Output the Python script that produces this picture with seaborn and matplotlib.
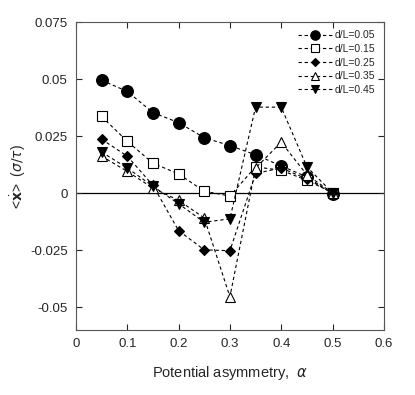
import matplotlib
matplotlib.use('agg')
import matplotlib.pyplot as plt
import seaborn as sns
import pandas as pd

alpha = [0.05, 0.1, 0.15, 0.2, 0.25, 0.3, 0.35, 0.4, 0.45, 0.5]
v005 = [0.0495, 0.0446, 0.0353, 0.0309, 0.0243, 0.0208, 0.0168, 0.0119, 0.0071, -0.0003]
v015 = [0.0336, 0.0227, 0.0131, 0.0084, 0.0008, -0.0013, 0.0115, 0.0100, 0.0056, 0.0002]
v025 = [0.0236, 0.0162, 0.0034, -0.0165, -0.0249, -0.0253, 0.0086, 0.0110, 0.0062, 0.0000]
v035 = [0.0162, 0.0095, 0.0022, -0.0032, -0.0109, -0.0455, 0.0110, 0.0223, 0.0080, 0.0001]
v045 = [0.0180, 0.0110, 0.0030, -0.0047, -0.0128, -0.0113, 0.0377, 0.0377, 0.0115, 0.0001]
labels = ['d/L=0.05', 'd/L=0.15', 'd/L=0.25', 'd/L=0.35', 'd/L=0.45']

sns.set_style('ticks')
plt.rcParams['font.family'] = ['Liberation Sans', 'DejaVu Sans']
plt.rcParams['mathtext.fontset'] = 'dejavusans'

fig = plt.figure(figsize=(4.15, 3.95), dpi=100)
ax = fig.add_axes([0.183, 0.165, 0.742, 0.779])

series = [v005, v015, v025, v035, v045]
styles = [('o', 'black', 8.5), ('s', 'white', 7), ('D', 'black', 5.5),
          ('^', 'white', 7), ('v', 'black', 7.5)]
for vals, lab, (m, fc, ms) in zip(series, labels, styles):
    df = pd.DataFrame({'alpha': alpha, 'v': vals})
    sns.lineplot(data=df, x='alpha', y='v', ax=ax, color='black', lw=0.8,
                 linestyle=(0, (3, 2.5)), marker=m, markersize=ms,
                 markerfacecolor=fc, markeredgecolor='black', markeredgewidth=0.8,
                 label=lab)

ax.axhline(0, color='black', lw=0.9, zorder=0)
ax.set_xlim(0, 0.6)
ax.set_ylim(-0.06, 0.075)
ax.set_xticks([0, 0.1, 0.2, 0.3, 0.4, 0.5, 0.6])
ax.set_xticklabels(['0', '0.1', '0.2', '0.3', '0.4', '0.5', '0.6'])
ax.set_yticks([-0.05, -0.025, 0, 0.025, 0.05, 0.075])
ax.set_yticklabels(['-0.05', '-0.025', '0', '0.025', '0.05', '0.075'])
ax.tick_params(direction='in', top=True, right=True, labelsize=9.5, length=4, width=0.8, pad=6)
for s in ax.spines.values():
    s.set_linewidth(0.8)
    s.set_color('#555555')

ax.set_xlabel(r'Potential asymmetry,  $\alpha$', fontsize=10.5, labelpad=10)
ax.set_ylabel(r'<$\dot{\mathbf{x}}$>  ($\sigma/\tau$)', fontsize=10)
ax.yaxis.set_label_coords(-0.155, 0.5)

ax.legend(loc='upper right', frameon=False, fontsize=7.5, handlelength=3.2,
          labelspacing=0.35, handletextpad=0.3, borderaxespad=0.4, markerscale=0.8)

fig.savefig('out.png', dpi=100)
